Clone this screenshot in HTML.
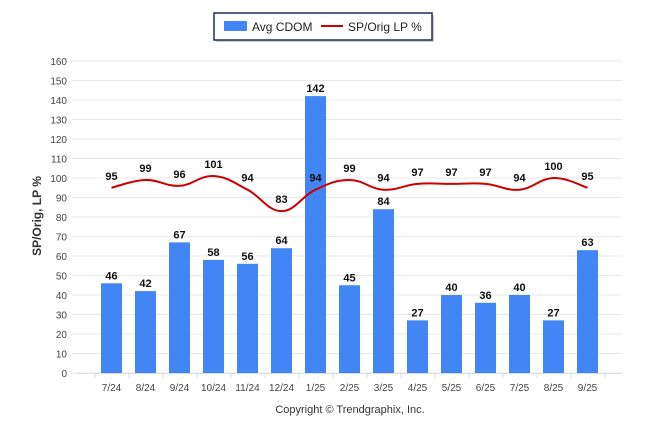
<!DOCTYPE html>
<html><head><meta charset="utf-8"><style>
body{margin:0;background:#fff;}
svg{display:block;font-family:"Liberation Sans",sans-serif;}
</style></head><body>
<svg id="chart" width="646" height="434">
<g>
<rect x="216" y="15" width="218" height="27" fill="#999" opacity="0.5"/>
<rect x="214" y="13" width="218" height="27" fill="#fff" stroke="#1b2f55" stroke-width="1.5"/>
<rect x="224" y="21" width="23" height="10" fill="#4285f4"/>
<text x="252" y="31" font-size="12" fill="#222">Avg CDOM</text>
<line x1="321" y1="26" x2="343" y2="26" stroke="#cc0000" stroke-width="2"/>
<text x="348" y="31" font-size="12" fill="#222">SP/Orig LP %</text>
</g>
<text transform="translate(41,216) rotate(-90)" text-anchor="middle" font-size="12" font-weight="bold" fill="#333">SP/Orig, LP %</text>
<text x="350" y="413" text-anchor="middle" font-size="11" fill="#333">Copyright © Trendgraphix, Inc.</text>
<g id="grid"></g><g id="bars"></g><g id="line"></g><g id="labels"></g>
</svg>
<script>
const categories=["7/24","8/24","9/24","10/24","11/24","12/24","1/25","2/25","3/25","4/25","5/25","6/25","7/25","8/25","9/25"];
const cdom=[46,42,67,58,56,64,142,45,84,27,40,36,40,27,63];
const lp=[95,99,96,101,94,83,94,99,94,97,97,97,94,100,95];
const yTicks=[0,10,20,30,40,50,60,70,80,90,100,110,120,130,140,150,160];
const NS="http://www.w3.org/2000/svg";
function y(v){return 373-v*1.95;}
function x(i){return 111.5+i*34;}
function mk(tag,attrs,parent,text){const e=document.createElementNS(NS,tag);for(const k in attrs)e.setAttribute(k,attrs[k]);if(text!==undefined)e.textContent=text;parent.appendChild(e);return e;}
const grid=document.getElementById('grid');
yTicks.forEach(t=>{
 const l=mk('line',{x1:72,x2:622,y1:y(t),y2:y(t),stroke:'#e8e8e8','stroke-width':1},grid);
 
 
 const tx=mk('text',{x:67,y:y(t)+4,'text-anchor':'end','font-size':10,fill:'#444'},grid,t);
 
 
});
mk('line',{x1:77,x2:622,y1:373.5,y2:373.5,stroke:'#ddd'},grid);
for(let i=0;i<=categories.length;i++){mk('line',{x1:x(i)-17+0.5-17+17,x2:x(i)-17+0.5,y1:373,y2:378,stroke:'#ddd'},grid);}
const bars=document.getElementById('bars'),labels=document.getElementById('labels');
categories.forEach((c,i)=>{
 const b=mk('rect',{x:x(i)-10.5,y:y(cdom[i]),width:21,height:y(0)-y(cdom[i]),fill:'#4285f4'},bars);
 
 
 const bl=mk('text',{x:x(i),y:y(cdom[i])-4,'text-anchor':'middle','font-size':11,'font-weight':'bold',fill:'#111'},labels,cdom[i]);
 
 
 const xl=mk('text',{x:x(i),y:391,'text-anchor':'middle','font-size':10,fill:'#444'},labels,c);
 
 
 const ll=mk('text',{x:x(i),y:y(lp[i])-8,'text-anchor':'middle','font-size':11,'font-weight':'bold',fill:'#111'},labels,lp[i]);
 
 
});
const pts=lp.map((v,i)=>[x(i),y(v)]);
let d='M'+pts[0][0]+','+pts[0][1];
for(let i=0;i<pts.length-1;i++){
 const p0=pts[Math.max(0,i-1)],p1=pts[i],p2=pts[i+1],p3=pts[Math.min(pts.length-1,i+2)];
 const t=0.2;
 d+=' C'+(p1[0]+(p2[0]-p0[0])*t)+','+(p1[1]+(p2[1]-p0[1])*t)+' '+(p2[0]-(p3[0]-p1[0])*t)+','+(p2[1]-(p3[1]-p1[1])*t)+' '+p2[0]+','+p2[1];
}
const path=mk('path',{d:d,fill:'none',stroke:'#cc0000','stroke-width':2},document.getElementById('line'));


</script>
</body></html>
